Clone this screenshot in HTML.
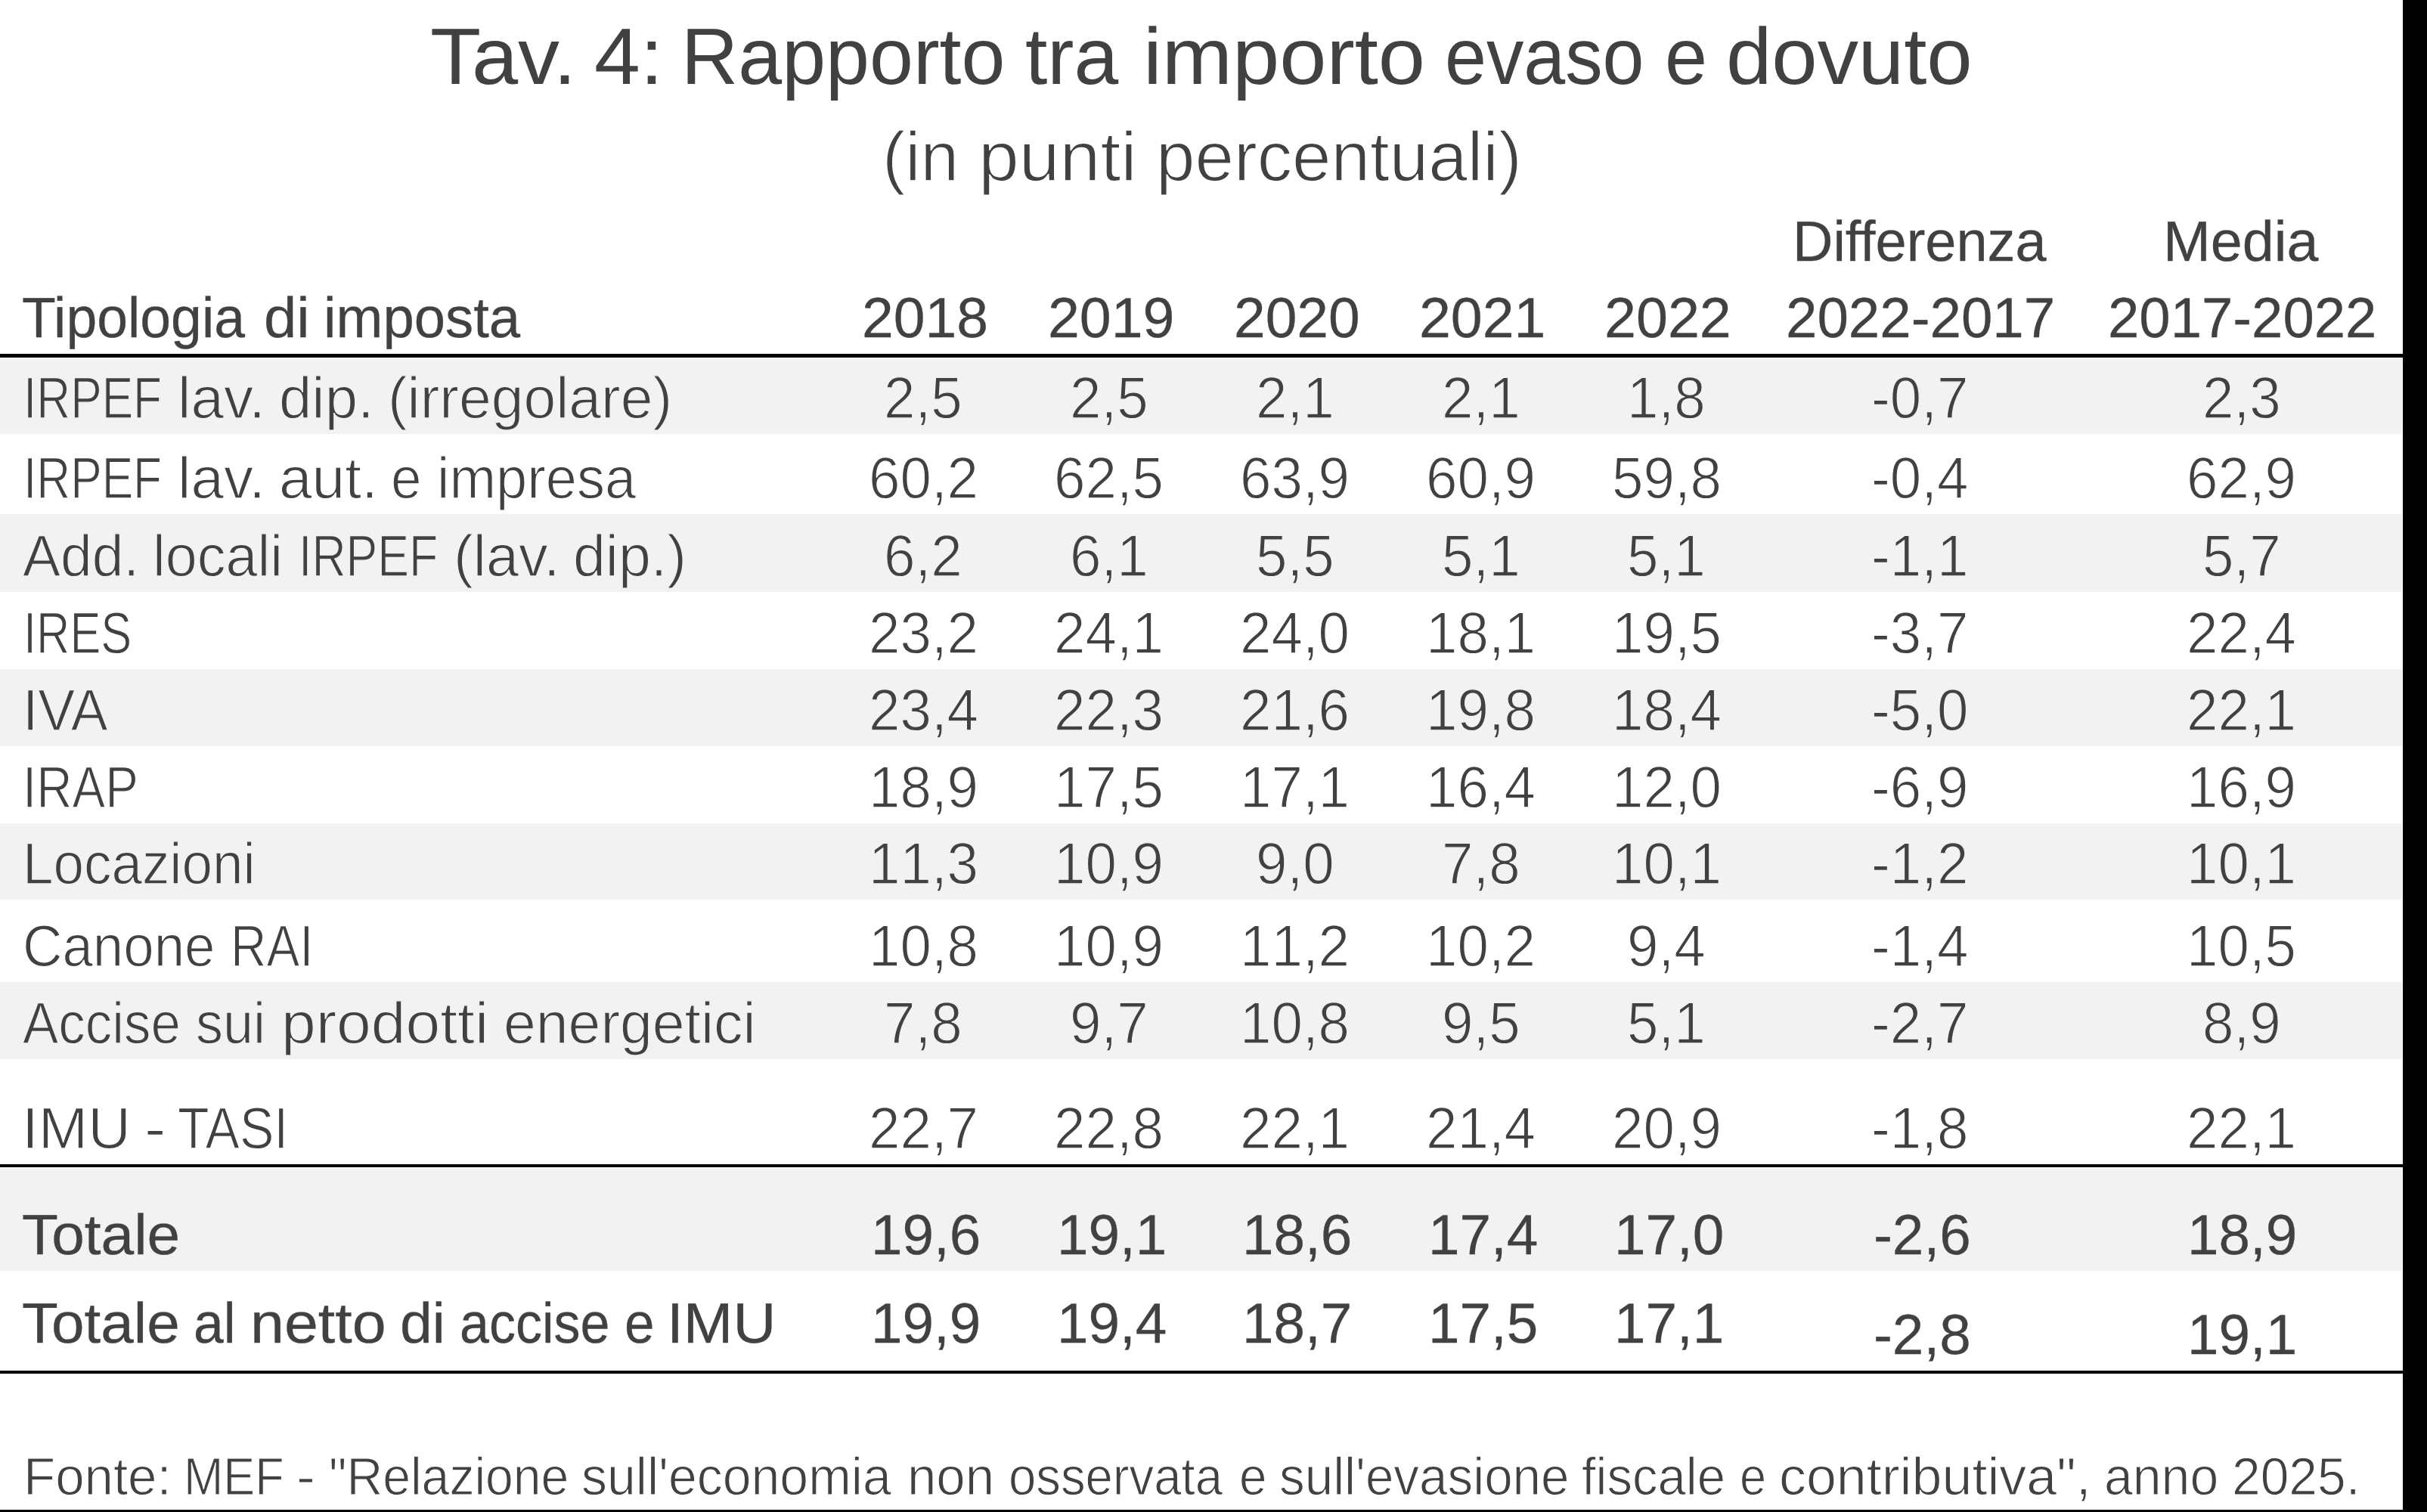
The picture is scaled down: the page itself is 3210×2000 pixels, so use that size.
<!DOCTYPE html>
<html lang="it">
<head>
<meta charset="utf-8">
<title>Tav. 4: Rapporto tra importo evaso e dovuto</title>
<style>
html,body{margin:0;padding:0;background:#fff;}
body{width:3210px;height:2000px;position:relative;overflow:hidden;font-family:"Liberation Sans",sans-serif;color:#414141;}
.b{position:absolute;}
.t{position:absolute;white-space:pre;line-height:1;transform-origin:0 0;text-rendering:geometricPrecision;}
.l.w{-webkit-text-stroke:1.3px #fff;}
.l.g{-webkit-text-stroke:1.3px #f2f2f2;}
.n{font-kerning:none;}
.s{-webkit-text-stroke:1.5px #fff;}
.f{-webkit-text-stroke:1.1px #fff;}
.m{-webkit-text-stroke:0.3px #414141;}
.h{-webkit-text-stroke:0px #fff;}
</style>
</head>
<body>
<div class="b" style="left:0px;top:474px;width:3177px;height:100px;background:#f2f2f2"></div>
<div class="b" style="left:0px;top:680px;width:3177px;height:103px;background:#f2f2f2"></div>
<div class="b" style="left:0px;top:885px;width:3177px;height:102px;background:#f2f2f2"></div>
<div class="b" style="left:0px;top:1089px;width:3177px;height:101px;background:#f2f2f2"></div>
<div class="b" style="left:0px;top:1299px;width:3177px;height:102px;background:#f2f2f2"></div>
<div class="b" style="left:0px;top:1545px;width:3177px;height:136px;background:#f2f2f2"></div>
<div class="b" style="left:0px;top:468px;width:3178px;height:5px;background:#000"></div>
<div class="b" style="left:0px;top:1540px;width:3178px;height:4px;background:#000"></div>
<div class="b" style="left:0px;top:1813px;width:3178px;height:4px;background:#000"></div>
<div class="b" style="left:3178px;top:0px;width:32px;height:2000px;background:#000"></div>
<div class="b" style="left:0px;top:1997px;width:3210px;height:3px;background:#000"></div>
<span class="t h" style="left:568.80px;top:23px;font-size:105.8px;transform:scaleX(1.0388);">Tav.</span>
<span class="t h" style="left:785.71px;top:23px;font-size:105.8px;transform:scaleX(1.0331);">4:</span>
<span class="t h" style="left:901.27px;top:23px;font-size:105.8px;transform:scaleX(0.9845);">Rapporto</span>
<span class="t h" style="left:1355.82px;top:23px;font-size:105.8px;transform:scaleX(0.9978);">tra</span>
<span class="t h" style="left:1511.93px;top:23px;font-size:105.8px;transform:scaleX(1.0573);">importo</span>
<span class="t h" style="left:1910.55px;top:23px;font-size:105.8px;transform:scaleX(0.9335);">evaso</span>
<span class="t h" style="left:2201.77px;top:23px;font-size:105.8px;transform:scaleX(0.9512);">e</span>
<span class="t h" style="left:2283.46px;top:23px;font-size:105.8px;transform:scaleX(1.0251);">dovuto</span>
<span class="t s" style="left:1166.79px;top:161px;font-size:92.5px;transform:scaleX(0.9845);">(in</span>
<span class="t s" style="left:1294.26px;top:161px;font-size:92.5px;transform:scaleX(1.0460);">punti</span>
<span class="t s" style="left:1528.93px;top:161px;font-size:92.5px;transform:scaleX(1.0009);">percentuali)</span>
<span class="t m w" style="left:29.18px;top:383px;font-size:75.32px;transform:scaleX(0.9741);">Tipologia</span>
<span class="t m w" style="left:348.73px;top:383px;font-size:75.32px;transform:scaleX(1.0343);">di</span>
<span class="t m w" style="left:428.32px;top:383px;font-size:75.32px;transform:scaleX(0.9867);">imposta</span>
<span class="t m w" style="left:1140.40px;top:383px;font-size:74.82px;transform:scaleX(1.0035);">2018</span>
<span class="t m w" style="left:1385.99px;top:383px;font-size:74.82px;transform:scaleX(1.0058);">2019</span>
<span class="t m w" style="left:1631.90px;top:383px;font-size:74.82px;transform:scaleX(1.0011);">2020</span>
<span class="t m w" style="left:1876.89px;top:383px;font-size:74.82px;transform:scaleX(1.0058);">2021</span>
<span class="t m w" style="left:2122.08px;top:383px;font-size:74.82px;transform:scaleX(1.0082);">2022</span>
<span class="t m w" style="left:2371.18px;top:282px;font-size:75.32px;transform:scaleX(0.9817);">Differenza</span>
<span class="t m w" style="left:2362.28px;top:383px;font-size:74.82px;transform:scaleX(0.9955);">2022-2017</span>
<span class="t m w" style="left:2861.42px;top:282px;font-size:75.32px;transform:scaleX(1.0014);">Media</span>
<span class="t m w" style="left:2788.38px;top:383px;font-size:74.82px;transform:scaleX(0.9933);">2017-2022</span>
<span class="t l g" style="left:30.65px;top:489px;font-size:77.55px;transform:scaleX(0.8017);">IRPEF</span>
<span class="t l g" style="left:234.66px;top:489px;font-size:77.55px;transform:scaleX(1.0092);">lav.</span>
<span class="t l g" style="left:368.93px;top:489px;font-size:77.55px;transform:scaleX(1.0046);">dip.</span>
<span class="t l g" style="left:513.04px;top:489px;font-size:77.55px;transform:scaleX(0.9916);">(irregolare)</span>
<span class="t l g n" style="left:1169.30px;top:488px;font-size:77.94px;transform:scaleX(0.9561);">2,5</span>
<span class="t l g n" style="left:1415.00px;top:488px;font-size:77.94px;transform:scaleX(0.9561);">2,5</span>
<span class="t l g n" style="left:1660.70px;top:488px;font-size:77.94px;transform:scaleX(0.9561);">2,1</span>
<span class="t l g n" style="left:1906.50px;top:488px;font-size:77.94px;transform:scaleX(0.9561);">2,1</span>
<span class="t l g n" style="left:2152.40px;top:488px;font-size:77.94px;transform:scaleX(0.9561);">1,8</span>
<span class="t l g n" style="left:2475.29px;top:488px;font-size:77.94px;transform:scaleX(0.9561);">-0,7</span>
<span class="t l g n" style="left:2912.90px;top:488px;font-size:77.94px;transform:scaleX(0.9561);">2,3</span>
<span class="t l w" style="left:30.65px;top:595px;font-size:77.55px;transform:scaleX(0.8017);">IRPEF</span>
<span class="t l w" style="left:234.66px;top:595px;font-size:77.55px;transform:scaleX(1.0092);">lav.</span>
<span class="t l w" style="left:368.91px;top:595px;font-size:77.55px;transform:scaleX(1.0115);">aut.</span>
<span class="t l w" style="left:517.24px;top:595px;font-size:77.55px;transform:scaleX(0.9383);">e</span>
<span class="t l w" style="left:577.74px;top:595px;font-size:77.55px;transform:scaleX(0.9540);">impresa</span>
<span class="t l w n" style="left:1148.58px;top:594px;font-size:77.94px;transform:scaleX(0.9561);">60,2</span>
<span class="t l w n" style="left:1394.28px;top:594px;font-size:77.94px;transform:scaleX(0.9561);">62,5</span>
<span class="t l w n" style="left:1639.98px;top:594px;font-size:77.94px;transform:scaleX(0.9561);">63,9</span>
<span class="t l w n" style="left:1885.78px;top:594px;font-size:77.94px;transform:scaleX(0.9561);">60,9</span>
<span class="t l w n" style="left:2131.68px;top:594px;font-size:77.94px;transform:scaleX(0.9561);">59,8</span>
<span class="t l w n" style="left:2475.29px;top:594px;font-size:77.94px;transform:scaleX(0.9561);">-0,4</span>
<span class="t l w n" style="left:2892.18px;top:594px;font-size:77.94px;transform:scaleX(0.9561);">62,9</span>
<span class="t l g" style="left:30.35px;top:698px;font-size:77.55px;transform:scaleX(0.9666);">Add.</span>
<span class="t l g" style="left:202.34px;top:698px;font-size:77.55px;transform:scaleX(0.9739);">locali</span>
<span class="t l g" style="left:394.82px;top:698px;font-size:77.55px;transform:scaleX(0.8072);">IRPEF</span>
<span class="t l g" style="left:599.50px;top:698px;font-size:77.55px;transform:scaleX(0.9990);">(lav.</span>
<span class="t l g" style="left:758.27px;top:698px;font-size:77.55px;transform:scaleX(0.9938);">dip.)</span>
<span class="t l g n" style="left:1169.30px;top:697px;font-size:77.94px;transform:scaleX(0.9561);">6,2</span>
<span class="t l g n" style="left:1415.00px;top:697px;font-size:77.94px;transform:scaleX(0.9561);">6,1</span>
<span class="t l g n" style="left:1660.70px;top:697px;font-size:77.94px;transform:scaleX(0.9561);">5,5</span>
<span class="t l g n" style="left:1906.50px;top:697px;font-size:77.94px;transform:scaleX(0.9561);">5,1</span>
<span class="t l g n" style="left:2152.40px;top:697px;font-size:77.94px;transform:scaleX(0.9561);">5,1</span>
<span class="t l g n" style="left:2475.29px;top:697px;font-size:77.94px;transform:scaleX(0.9561);">-1,1</span>
<span class="t l g n" style="left:2912.90px;top:697px;font-size:77.94px;transform:scaleX(0.9561);">5,7</span>
<span class="t l w" style="left:30.72px;top:800px;font-size:77.55px;transform:scaleX(0.7919);">IRES</span>
<span class="t l w n" style="left:1148.58px;top:799px;font-size:77.94px;transform:scaleX(0.9561);">23,2</span>
<span class="t l w n" style="left:1394.28px;top:799px;font-size:77.94px;transform:scaleX(0.9561);">24,1</span>
<span class="t l w n" style="left:1639.98px;top:799px;font-size:77.94px;transform:scaleX(0.9561);">24,0</span>
<span class="t l w n" style="left:1885.78px;top:799px;font-size:77.94px;transform:scaleX(0.9561);">18,1</span>
<span class="t l w n" style="left:2131.68px;top:799px;font-size:77.94px;transform:scaleX(0.9561);">19,5</span>
<span class="t l w n" style="left:2475.29px;top:799px;font-size:77.94px;transform:scaleX(0.9561);">-3,7</span>
<span class="t l w n" style="left:2892.18px;top:799px;font-size:77.94px;transform:scaleX(0.9561);">22,4</span>
<span class="t l g" style="left:29.65px;top:902px;font-size:77.55px;transform:scaleX(0.9451);">IVA</span>
<span class="t l g n" style="left:1148.58px;top:901px;font-size:77.94px;transform:scaleX(0.9561);">23,4</span>
<span class="t l g n" style="left:1394.28px;top:901px;font-size:77.94px;transform:scaleX(0.9561);">22,3</span>
<span class="t l g n" style="left:1639.98px;top:901px;font-size:77.94px;transform:scaleX(0.9561);">21,6</span>
<span class="t l g n" style="left:1885.78px;top:901px;font-size:77.94px;transform:scaleX(0.9561);">19,8</span>
<span class="t l g n" style="left:2131.68px;top:901px;font-size:77.94px;transform:scaleX(0.9561);">18,4</span>
<span class="t l g n" style="left:2475.29px;top:901px;font-size:77.94px;transform:scaleX(0.9561);">-5,0</span>
<span class="t l g n" style="left:2892.18px;top:901px;font-size:77.94px;transform:scaleX(0.9561);">22,1</span>
<span class="t l w" style="left:30.36px;top:1004px;font-size:77.55px;transform:scaleX(0.8444);">IRAP</span>
<span class="t l w n" style="left:1148.58px;top:1003px;font-size:77.94px;transform:scaleX(0.9561);">18,9</span>
<span class="t l w n" style="left:1394.28px;top:1003px;font-size:77.94px;transform:scaleX(0.9561);">17,5</span>
<span class="t l w n" style="left:1639.98px;top:1003px;font-size:77.94px;transform:scaleX(0.9561);">17,1</span>
<span class="t l w n" style="left:1885.78px;top:1003px;font-size:77.94px;transform:scaleX(0.9561);">16,4</span>
<span class="t l w n" style="left:2131.68px;top:1003px;font-size:77.94px;transform:scaleX(0.9561);">12,0</span>
<span class="t l w n" style="left:2475.29px;top:1003px;font-size:77.94px;transform:scaleX(0.9561);">-6,9</span>
<span class="t l w n" style="left:2892.18px;top:1003px;font-size:77.94px;transform:scaleX(0.9561);">16,9</span>
<span class="t l g" style="left:30.42px;top:1105px;font-size:77.55px;transform:scaleX(0.9390);">Locazioni</span>
<span class="t l g n" style="left:1148.58px;top:1104px;font-size:77.94px;transform:scaleX(0.9561);">11,3</span>
<span class="t l g n" style="left:1394.28px;top:1104px;font-size:77.94px;transform:scaleX(0.9561);">10,9</span>
<span class="t l g n" style="left:1660.70px;top:1104px;font-size:77.94px;transform:scaleX(0.9561);">9,0</span>
<span class="t l g n" style="left:1906.50px;top:1104px;font-size:77.94px;transform:scaleX(0.9561);">7,8</span>
<span class="t l g n" style="left:2131.68px;top:1104px;font-size:77.94px;transform:scaleX(0.9561);">10,1</span>
<span class="t l g n" style="left:2475.29px;top:1104px;font-size:77.94px;transform:scaleX(0.9561);">-1,2</span>
<span class="t l g n" style="left:2892.18px;top:1104px;font-size:77.94px;transform:scaleX(0.9561);">10,1</span>
<span class="t l w" style="left:29.72px;top:1214px;font-size:77.55px;transform:scaleX(0.9366);">Canone</span>
<span class="t l w" style="left:304.99px;top:1214px;font-size:77.55px;transform:scaleX(0.8479);">RAI</span>
<span class="t l w n" style="left:1148.58px;top:1213px;font-size:77.94px;transform:scaleX(0.9561);">10,8</span>
<span class="t l w n" style="left:1394.28px;top:1213px;font-size:77.94px;transform:scaleX(0.9561);">10,9</span>
<span class="t l w n" style="left:1639.98px;top:1213px;font-size:77.94px;transform:scaleX(0.9561);">11,2</span>
<span class="t l w n" style="left:1885.78px;top:1213px;font-size:77.94px;transform:scaleX(0.9561);">10,2</span>
<span class="t l w n" style="left:2152.40px;top:1213px;font-size:77.94px;transform:scaleX(0.9561);">9,4</span>
<span class="t l w n" style="left:2475.29px;top:1213px;font-size:77.94px;transform:scaleX(0.9561);">-1,4</span>
<span class="t l w n" style="left:2892.18px;top:1213px;font-size:77.94px;transform:scaleX(0.9561);">10,5</span>
<span class="t l g" style="left:30.35px;top:1316px;font-size:77.55px;transform:scaleX(0.9142);">Accise</span>
<span class="t l g" style="left:258.69px;top:1316px;font-size:77.55px;transform:scaleX(0.9278);">sui</span>
<span class="t l g" style="left:372.11px;top:1316px;font-size:77.55px;transform:scaleX(1.0602);">prodotti</span>
<span class="t l g" style="left:665.57px;top:1316px;font-size:77.55px;transform:scaleX(0.9923);">energetici</span>
<span class="t l g n" style="left:1169.30px;top:1315px;font-size:77.94px;transform:scaleX(0.9561);">7,8</span>
<span class="t l g n" style="left:1415.00px;top:1315px;font-size:77.94px;transform:scaleX(0.9561);">9,7</span>
<span class="t l g n" style="left:1639.98px;top:1315px;font-size:77.94px;transform:scaleX(0.9561);">10,8</span>
<span class="t l g n" style="left:1906.50px;top:1315px;font-size:77.94px;transform:scaleX(0.9561);">9,5</span>
<span class="t l g n" style="left:2152.40px;top:1315px;font-size:77.94px;transform:scaleX(0.9561);">5,1</span>
<span class="t l g n" style="left:2475.29px;top:1315px;font-size:77.94px;transform:scaleX(0.9561);">-2,7</span>
<span class="t l g n" style="left:2912.90px;top:1315px;font-size:77.94px;transform:scaleX(0.9561);">8,9</span>
<span class="t l w" style="left:29.19px;top:1455px;font-size:77.55px;transform:scaleX(1.0123);">IMU</span>
<span class="t l w" style="left:190.61px;top:1455px;font-size:77.55px;transform:scaleX(1.1000);">-</span>
<span class="t l w" style="left:234.69px;top:1455px;font-size:77.55px;transform:scaleX(0.8776);">TASI</span>
<span class="t l w n" style="left:1148.58px;top:1454px;font-size:77.94px;transform:scaleX(0.9561);">22,7</span>
<span class="t l w n" style="left:1394.28px;top:1454px;font-size:77.94px;transform:scaleX(0.9561);">22,8</span>
<span class="t l w n" style="left:1639.98px;top:1454px;font-size:77.94px;transform:scaleX(0.9561);">22,1</span>
<span class="t l w n" style="left:1885.78px;top:1454px;font-size:77.94px;transform:scaleX(0.9561);">21,4</span>
<span class="t l w n" style="left:2131.68px;top:1454px;font-size:77.94px;transform:scaleX(0.9561);">20,9</span>
<span class="t l w n" style="left:2475.29px;top:1454px;font-size:77.94px;transform:scaleX(0.9561);">-1,8</span>
<span class="t l w n" style="left:2892.18px;top:1454px;font-size:77.94px;transform:scaleX(0.9561);">22,1</span>
<span class="t m g" style="left:28.68px;top:1596px;font-size:75.32px;transform:scaleX(1.0411);">Totale</span>
<span class="t m g n" style="left:1151.71px;top:1596px;font-size:74.82px;transform:scaleX(0.9983);">19,6</span>
<span class="t m g n" style="left:1397.51px;top:1596px;font-size:74.82px;transform:scaleX(0.9983);">19,1</span>
<span class="t m g n" style="left:1643.21px;top:1596px;font-size:74.82px;transform:scaleX(0.9983);">18,6</span>
<span class="t m g n" style="left:1889.01px;top:1596px;font-size:74.82px;transform:scaleX(0.9983);">17,4</span>
<span class="t m g n" style="left:2134.81px;top:1596px;font-size:74.82px;transform:scaleX(0.9983);">17,0</span>
<span class="t m g n" style="left:2477.54px;top:1596px;font-size:74.82px;transform:scaleX(0.9983);">-2,6</span>
<span class="t m g n" style="left:2893.31px;top:1596px;font-size:74.82px;transform:scaleX(0.9983);">18,9</span>
<span class="t m w" style="left:28.69px;top:1713px;font-size:75.32px;transform:scaleX(1.0386);">Totale</span>
<span class="t m w" style="left:256.19px;top:1713px;font-size:75.32px;transform:scaleX(0.9491);">al</span>
<span class="t m w" style="left:331.40px;top:1713px;font-size:75.32px;transform:scaleX(1.0727);">netto</span>
<span class="t m w" style="left:529.47px;top:1713px;font-size:75.32px;transform:scaleX(1.0225);">di</span>
<span class="t m w" style="left:608.45px;top:1713px;font-size:75.32px;transform:scaleX(0.9293);">accise</span>
<span class="t m w" style="left:825.81px;top:1713px;font-size:75.32px;transform:scaleX(0.9434);">e</span>
<span class="t m w" style="left:882.07px;top:1713px;font-size:75.32px;transform:scaleX(1.0445);">IMU</span>
<span class="t m w n" style="left:1151.71px;top:1713px;font-size:74.82px;transform:scaleX(0.9983);">19,9</span>
<span class="t m w n" style="left:1397.51px;top:1713px;font-size:74.82px;transform:scaleX(0.9983);">19,4</span>
<span class="t m w n" style="left:1643.21px;top:1713px;font-size:74.82px;transform:scaleX(0.9983);">18,7</span>
<span class="t m w n" style="left:1889.01px;top:1713px;font-size:74.82px;transform:scaleX(0.9983);">17,5</span>
<span class="t m w n" style="left:2134.81px;top:1713px;font-size:74.82px;transform:scaleX(0.9983);">17,1</span>
<span class="t m w n" style="left:2477.54px;top:1728px;font-size:74.82px;transform:scaleX(0.9983);">-2,8</span>
<span class="t m w n" style="left:2893.31px;top:1728px;font-size:74.82px;transform:scaleX(0.9983);">19,1</span>
<span class="t f" style="left:30.83px;top:1918px;font-size:70px;transform:scaleX(0.9860);">Fonte:</span>
<span class="t f" style="left:242.52px;top:1918px;font-size:70px;transform:scaleX(0.8973);">MEF</span>
<span class="t f" style="left:391.79px;top:1918px;font-size:70px;transform:scaleX(1.0670);">-</span>
<span class="t f" style="left:434.71px;top:1918px;font-size:70px;transform:scaleX(0.9441);">"Relazione</span>
<span class="t f" style="left:768.91px;top:1918px;font-size:70px;transform:scaleX(0.9710);">sull'economia</span>
<span class="t f" style="left:1199.97px;top:1918px;font-size:70px;transform:scaleX(0.9856);">non</span>
<span class="t f" style="left:1333.64px;top:1918px;font-size:70px;transform:scaleX(0.9323);">osservata</span>
<span class="t f" style="left:1638.53px;top:1918px;font-size:70px;transform:scaleX(0.9362);">e</span>
<span class="t f" style="left:1691.93px;top:1918px;font-size:70px;transform:scaleX(0.9621);">sull'evasione</span>
<span class="t f" style="left:2091.74px;top:1918px;font-size:70px;transform:scaleX(0.9575);">fiscale</span>
<span class="t f" style="left:2300.73px;top:1918px;font-size:70px;transform:scaleX(0.8997);">e</span>
<span class="t f" style="left:2352.98px;top:1918px;font-size:70px;transform:scaleX(1.0257);">contributiva",</span>
<span class="t f" style="left:2782.53px;top:1918px;font-size:70px;transform:scaleX(0.9710);">anno</span>
<span class="t f" style="left:2951.76px;top:1918px;font-size:70px;transform:scaleX(0.9679);">2025.</span>
</body>
</html>
